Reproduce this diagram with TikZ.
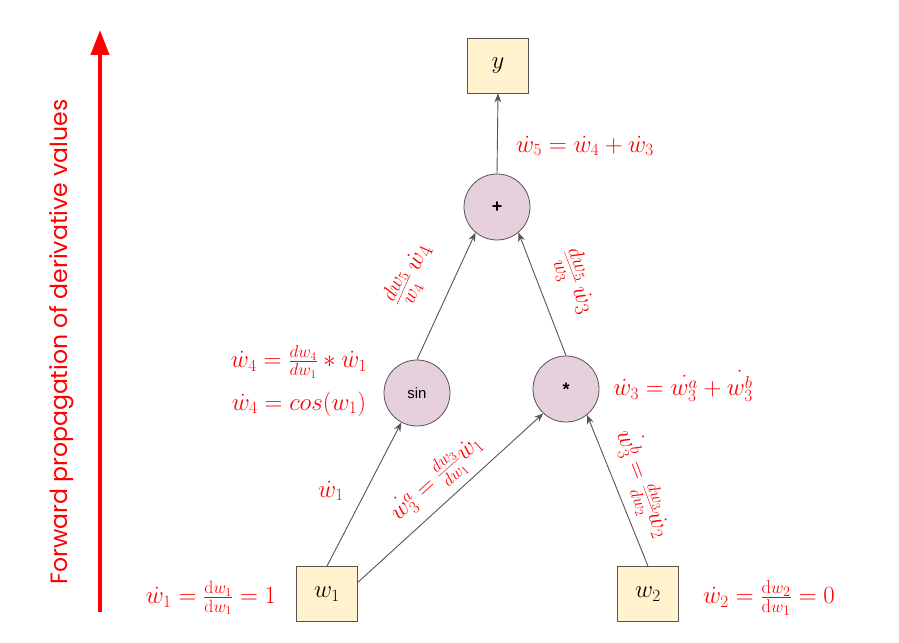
\documentclass[tikz,border=0pt]{standalone}
\usepackage{fontspec}
\newfontfamily\labelfont{Liberation Sans}
\newfontfamily\sidefont{Poppins}
\usetikzlibrary{arrows.meta,calc}
\definecolor{boxfill}{HTML}{FFF2CC}
\definecolor{circfill}{HTML}{E6D0DE}
\definecolor{edgegray}{HTML}{555555}
\definecolor{lblred}{HTML}{FF0000}
\begin{document}
\begin{tikzpicture}[x=1bp,y=-1bp,
  varbox/.style={draw=edgegray,fill=boxfill,line width=0.8bp,minimum width=61bp,minimum height=55bp,inner sep=0pt,font=\fontsize{24}{28}\selectfont},
  opnode/.style={circle,draw=edgegray,fill=circfill,line width=0.8bp,minimum size=66bp,inner sep=0pt,font=\labelfont\fontsize{15}{18}\selectfont},
  opsym/.style={font=\labelfont\bfseries\fontsize{18}{20}\selectfont},
  edge/.style={draw=edgegray,line width=0.9bp,-{Stealth[length=9bp,width=7bp]}},
  lbl/.style={text=lblred,inner sep=0pt,font=\fontsize{24}{28}\selectfont},
  rlbl/.style={text=lblred,inner sep=0pt}]
\useasboundingbox (0,0) rectangle (899,643);
% nodes
\node[varbox] (y) at (498,65.5) {$y$};
\node[opnode,opsym] (plus) at (497,207) {+};
\node[opnode] (sin) at (417,393) {sin};
\node[opnode,opsym] (mul) at (566,389) {*};
\node[varbox] (w1) at (327,594) {$w_1$};
\node[varbox] (w2) at (648,594) {$w_2$};
% edges
\coordinate (w1r) at ($(w1.north east)!0.29!(w1.south east)$);
\draw[edge] (w1.north) -- (sin.-118);
\draw[edge] (w1r) -- (mul.-133);
\draw[edge] (w2.north) -- (mul.-51);
\draw[edge] (sin.north) -- (plus.-130);
\draw[edge] (mul.north) -- (plus.-50);
\draw[edge] (plus.north) -- (y.south);
% left arrow
\coordinate (la) at (100,612);
\coordinate (lb) at (100,30);
\draw[lblred,line width=4bp,-{Triangle[length=25bp,width=18bp]}] (la) -- (lb);
\node[rotate=90,text=lblred,inner sep=0pt] (fwd) at (62,342) {\resizebox{485bp}{!}{\sidefont Forward propagation of derivative values}};
% labels
\node[lbl] (l5) at (585,146) {$\dot{w}_5=\dot{w}_4+\dot{w}_3$};
\node[rlbl,rotate=66,font=\fontsize{30}{34}\selectfont] (l54) at (410,275) {$\frac{dw_5}{w_4}\,\dot{w}_4$};
\node[rlbl,rotate=-69,font=\fontsize{30}{34}\selectfont] (l53) at (576,282) {$\frac{dw_5}{w_3}\,\dot{w}_3$};
\node[lbl] (l4a) at (299,362) {$\dot{w}_4=\frac{dw_4}{dw_1}*\dot{w}_1$};
\node[lbl] (l4b) at (299,404) {$\dot{w}_4=cos(w_1)$};
\node[lbl] (l3) at (683,386) {$\dot{w}_3=\dot{w_3^a}+\dot{w_3^b}$};
\node[lbl] (l1e) at (331,491) {$\dot{w}_1$};
\node[rlbl,rotate=42,font=\fontsize{24}{28}\selectfont] (l3a) at (437,479) {$\dot{w_3^a}=\frac{dw_3}{dw_1}\dot{w}_1$};
\node[rlbl,rotate=-69,font=\fontsize{26}{30}\selectfont] (l3b) at (643,484) {$\dot{w_3^b}=\frac{dw_3}{dw_2}\dot{w}_2$};
\node[lbl,font=\fontsize{25.5}{30}\selectfont] (l1) at (211,598) {$\dot{w}_1=\frac{\mathrm{d}w_1}{\mathrm{d}w_1}=1$};
\node[lbl,font=\fontsize{26.5}{30}\selectfont] (l2) at (769,598) {$\dot{w}_2=\frac{\mathrm{d}w_2}{\mathrm{d}w_1}=0$};
\end{tikzpicture}
\end{document}
